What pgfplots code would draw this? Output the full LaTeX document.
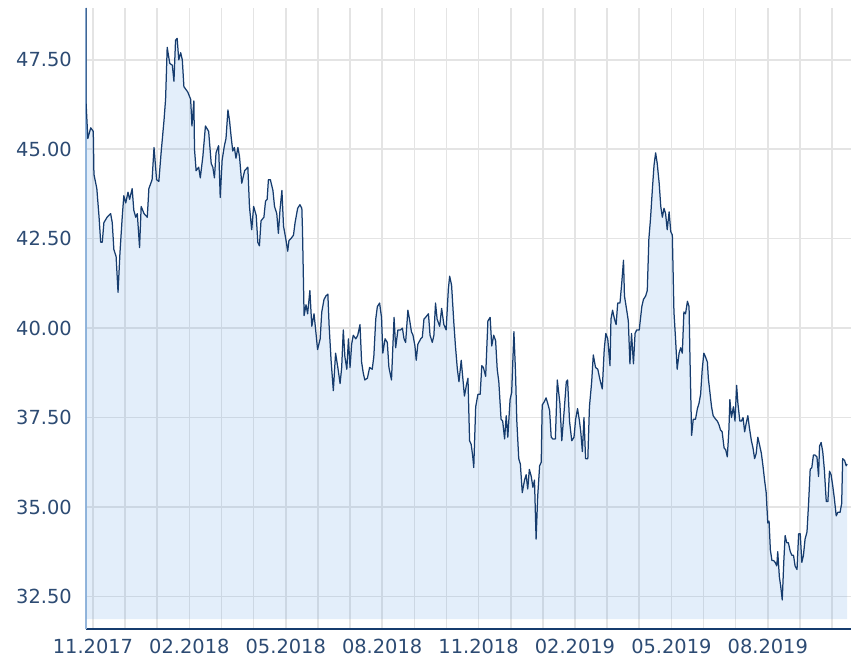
\documentclass[border=0pt]{standalone}
\usepackage{pgfplots}
\pgfplotsset{compat=1.18}
\usepackage{pgfplotstable}
\usepackage{fontspec}
\setmainfont{DejaVu Sans}
\definecolor{navy}{RGB}{22,60,110}
\definecolor{fillblue}{RGB}{100,160,225}
\definecolor{yaxis}{RGB}{150,182,218}
\definecolor{lbl}{RGB}{45,75,115}
\definecolor{gridc}{RGB}{228,228,228}

% x: months since 1 Nov 2017, y: price
\pgfplotstableread{
x y
-0.22 48.95
-0.22 46.4
-0.16 45.3
-0.07 45.6
0.01 45.5
0.03 44.3
0.12 43.9
0.19 43.1
0.24 42.4
0.29 42.4
0.34 42.95
0.44 43.1
0.55 43.2
0.60 42.95
0.65 42.2
0.72 42.0
0.78 41.0
0.84 42.1
0.91 43.1
0.96 43.7
1.02 43.5
1.09 43.8
1.14 43.6
1.22 43.9
1.27 43.3
1.33 43.1
1.38 43.2
1.45 42.25
1.50 43.4
1.59 43.2
1.69 43.1
1.74 43.9
1.84 44.15
1.90 45.05
1.98 44.15
2.05 44.1
2.12 44.9
2.21 45.8
2.26 46.4
2.31 47.85
2.39 47.4
2.47 47.35
2.52 46.9
2.57 48.05
2.62 48.1
2.67 47.5
2.73 47.7
2.78 47.5
2.83 46.75
2.95 46.6
3.04 46.4
3.08 45.65
3.14 46.35
3.16 45.0
3.21 44.4
3.29 44.5
3.34 44.2
3.42 44.8
3.50 45.65
3.60 45.5
3.68 44.6
3.73 44.5
3.78 44.2
3.83 44.9
3.91 45.1
3.96 43.65
4.02 44.7
4.09 45.1
4.14 45.3
4.20 46.1
4.25 45.8
4.30 45.35
4.35 44.95
4.40 45.05
4.45 44.75
4.51 45.05
4.56 44.8
4.63 44.05
4.72 44.4
4.82 44.5
4.87 43.4
4.94 42.75
5.00 43.4
5.08 43.15
5.13 42.4
5.18 42.3
5.23 43.0
5.32 43.1
5.37 43.55
5.42 43.6
5.46 44.15
5.52 44.15
5.60 43.85
5.65 43.4
5.72 43.2
5.77 42.65
5.82 43.3
5.88 43.85
5.93 42.85
6.00 42.5
6.06 42.15
6.10 42.45
6.16 42.5
6.24 42.6
6.29 42.95
6.37 43.35
6.44 43.45
6.50 43.35
6.52 42.75
6.57 40.35
6.63 40.65
6.68 40.4
6.75 41.05
6.81 40.05
6.88 40.4
6.93 39.95
6.99 39.4
7.07 39.7
7.12 40.45
7.19 40.8
7.25 40.9
7.31 40.95
7.35 40.05
7.41 39.1
7.48 38.25
7.55 39.3
7.62 38.9
7.69 38.45
7.74 38.9
7.79 39.95
7.84 39.2
7.90 38.85
7.95 39.7
8.00 38.9
8.05 39.55
8.10 39.8
8.18 39.7
8.24 39.8
8.31 40.1
8.36 39.05
8.41 38.75
8.46 38.55
8.54 38.6
8.61 38.9
8.69 38.85
8.74 39.2
8.80 40.25
8.85 40.6
8.92 40.7
8.98 40.3
9.02 39.3
9.09 39.7
9.16 39.6
9.21 38.9
9.29 38.55
9.37 40.3
9.42 39.45
9.49 39.95
9.57 39.95
9.63 40.0
9.68 39.7
9.73 39.6
9.80 40.5
9.85 40.25
9.91 39.9
9.96 39.8
10.02 39.5
10.06 39.1
10.11 39.55
10.20 39.7
10.25 39.75
10.30 40.25
10.35 40.3
10.44 40.4
10.49 39.8
10.56 39.6
10.61 39.8
10.66 40.7
10.71 40.25
10.79 40.05
10.85 40.55
10.92 40.1
10.99 39.95
11.06 41.1
11.10 41.45
11.16 41.2
11.23 40.15
11.28 39.5
11.34 38.85
11.39 38.5
11.46 39.1
11.51 38.6
11.56 38.1
11.62 38.4
11.67 38.6
11.72 36.85
11.77 36.75
11.82 36.4
11.85 36.1
11.91 37.8
11.98 38.15
12.05 38.15
12.10 38.95
12.15 38.9
12.22 38.65
12.29 40.2
12.36 40.3
12.41 39.5
12.47 39.8
12.53 39.65
12.58 38.85
12.63 38.5
12.70 37.45
12.75 37.4
12.81 36.9
12.86 37.55
12.91 36.95
12.98 38.0
13.03 38.2
13.10 39.9
13.15 38.75
13.19 37.4
13.25 36.35
13.30 36.2
13.36 35.4
13.43 35.75
13.48 35.9
13.53 35.5
13.58 36.05
13.64 35.85
13.69 35.55
13.74 35.75
13.79 34.1
13.84 35.3
13.90 36.15
13.95 36.25
13.98 37.85
14.05 37.95
14.10 38.05
14.15 37.9
14.21 37.7
14.26 36.95
14.31 36.9
14.39 36.9
14.45 38.55
14.53 37.9
14.59 36.85
14.66 37.65
14.73 38.5
14.77 38.55
14.83 37.4
14.90 36.85
14.97 36.95
15.02 37.45
15.08 37.75
15.14 37.4
15.18 37.1
15.23 36.55
15.28 37.5
15.33 36.35
15.40 36.35
15.45 37.8
15.52 38.5
15.57 39.25
15.64 38.9
15.71 38.85
15.78 38.55
15.85 38.3
15.91 39.4
15.96 39.85
16.02 39.7
16.09 38.95
16.12 40.25
16.17 40.5
16.23 40.25
16.28 40.1
16.33 40.7
16.40 40.7
16.45 41.2
16.51 41.9
16.54 40.9
16.61 40.5
16.66 40.2
16.71 39.0
16.76 39.85
16.82 39.0
16.87 39.85
16.92 39.95
17.00 39.95
17.08 40.6
17.13 40.8
17.20 40.9
17.25 41.05
17.30 42.5
17.35 43.05
17.41 43.9
17.46 44.55
17.51 44.9
17.56 44.6
17.62 44.05
17.67 43.4
17.72 43.1
17.77 43.35
17.82 43.2
17.87 42.75
17.93 43.25
17.98 42.7
18.03 42.6
18.08 40.45
18.13 39.7
18.18 38.85
18.24 39.3
18.29 39.45
18.34 39.3
18.39 40.45
18.44 40.4
18.50 40.75
18.55 40.6
18.58 39.1
18.63 37.0
18.68 37.45
18.75 37.45
18.81 37.75
18.86 37.9
18.91 38.15
18.96 38.85
19.01 39.3
19.06 39.2
19.12 39.05
19.15 38.6
19.20 38.2
19.25 37.8
19.30 37.55
19.38 37.45
19.43 37.4
19.48 37.3
19.53 37.15
19.58 37.1
19.64 36.65
19.69 36.6
19.74 36.4
19.79 37.15
19.82 38.0
19.87 37.5
19.93 37.8
19.98 37.4
20.03 38.4
20.07 37.9
20.13 37.4
20.18 37.4
20.23 37.5
20.28 37.1
20.33 37.35
20.38 37.55
20.43 37.2
20.49 36.85
20.54 36.65
20.59 36.35
20.64 36.5
20.69 36.95
20.74 36.75
20.80 36.5
20.85 36.15
20.90 35.75
20.95 35.4
21.00 34.55
21.04 34.6
21.08 33.8
21.13 33.5
21.18 33.5
21.23 33.45
21.28 33.35
21.31 33.75
21.36 33.05
21.40 32.8
21.45 32.4
21.50 33.5
21.54 34.2
21.59 34.0
21.64 34.0
21.70 33.75
21.75 33.65
21.80 33.65
21.85 33.35
21.91 33.25
21.96 34.25
22.01 34.25
22.06 33.45
22.11 33.65
22.16 34.1
22.22 34.3
22.27 35.1
22.32 36.05
22.37 36.1
22.42 36.45
22.47 36.45
22.53 36.4
22.58 35.85
22.61 36.7
22.66 36.8
22.71 36.55
22.76 36.05
22.82 35.15
22.87 35.15
22.92 36.0
22.97 35.9
23.02 35.6
23.07 35.25
23.13 34.75
23.18 34.85
23.25 34.85
23.30 35.1
23.33 36.35
23.39 36.3
23.44 36.15
23.47 36.2
}\pricedata

\begin{document}
\begin{tikzpicture}
\begin{axis}[
  at={(86bp,32bp)}, anchor=south west,
  scale only axis, width=766bp, height=622bp,
  xmin=-0.22, xmax=23.59, ymin=31.58, ymax=48.95,
  axis x line=bottom, axis y line=left,
  axis line style={-},
  x axis line style={draw=navy, line width=2bp},
  y axis line style={draw=yaxis, line width=2bp},
  xtick={0,3,6,9,12,15,18,21},
  xticklabels={11.2017,02.2018,05.2018,08.2018,11.2018,02.2019,05.2019,08.2019},
  minor xtick={1,2,4,5,7,8,10,11,13,14,16,17,19,20,22,23},
  ytick={32.5,35,37.5,40,42.5,45,47.5},
  yticklabels={32.50,35.00,37.50,40.00,42.50,45.00,47.50},
  major tick length=0pt, minor tick length=0pt,
  xmajorgrids, xminorgrids, ymajorgrids,
  major grid style={draw=gridc, line width=1.6bp},
  minor grid style={draw=gridc, line width=1.6bp},
  tick label style={font=\fontsize{19.5}{22}\selectfont, text=lbl, inner sep=0pt},
  xticklabel style={anchor=north, yshift=-10bp},
  yticklabel style={anchor=east, xshift=-14bp},
  clip=true,
]
\addplot[fill=fillblue, fill opacity=0.18, draw=none] table[x=x,y=y] {\pricedata}
  -- (axis cs:23.47,31.86) -- (axis cs:-0.22,31.86) -- cycle;
\addplot[draw=navy, line width=1.25bp, line join=round] table[x=x,y=y] {\pricedata};
\end{axis}
\path (0,0) rectangle (852bp,662bp);
\end{tikzpicture}
\end{document}
